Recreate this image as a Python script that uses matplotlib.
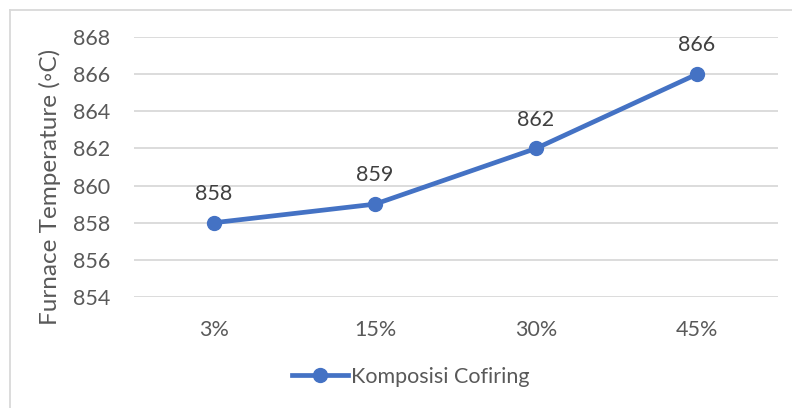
import matplotlib
matplotlib.use("Agg")
import matplotlib.pyplot as plt
from matplotlib.lines import Line2D

categories = ["3%", "15%", "30%", "45%"]
temperatures = [858, 859, 862, 866]
series_name = "Komposisi Cofiring"
y_ticks = [854, 856, 858, 860, 862, 864, 866, 868]

plt.rcParams["font.family"] = ["Lato", "DejaVu Sans"]

W, H = 792, 408
fig = plt.figure(figsize=(W / 100, H / 100), dpi=100)

# Plot area in pixel coordinates
left, right, top, bottom = 133.5, 777.5, 37, 297
ax = fig.add_axes([left / W, 1 - bottom / H, (right - left) / W, (bottom - top) / H])

blue = "#4472C4"
grid = "#D9D9D9"
tick_col = "#595959"
label_col = "#404040"
fs = 15.5

x = list(range(len(categories)))
ax.plot(x, temperatures, color=blue, lw=3.4, marker="o", markersize=10,
        solid_capstyle="round", zorder=3, clip_on=False)

for xi, v in zip(x, temperatures):
    ax.annotate(f"{v}", (xi, v), xytext=(0, 16.5), textcoords="offset points",
                ha="center", va="baseline", fontsize=fs, color=label_col)

ax.set_xlim(-0.5, len(categories) - 0.5)
ax.set_ylim(y_ticks[0], y_ticks[-1])
ax.set_yticks(y_ticks)
ax.set_xticks(x)
ax.set_xticklabels(categories)
ax.grid(axis="y", color=grid, lw=1.3)
ax.set_axisbelow(True)
for s in ax.spines.values():
    s.set_visible(False)
ax.tick_params(axis="both", length=0, labelsize=fs, labelcolor=tick_col)
ax.tick_params(axis="y", pad=17)
ax.tick_params(axis="x", pad=16.5)

fig.text(50 / W, 1 - 187 / H, "Furnace Temperature (\u25e6C)", rotation=90,
         ha="center", va="center", fontsize=17.5, color=tick_col)

# Legend
handle = Line2D([], [], color=blue, lw=3.4, marker="o", markersize=10)
fig.legend([handle], [series_name], loc="center", bbox_to_anchor=(411 / W, 1 - 377 / H),
           frameon=False, fontsize=fs, labelcolor=tick_col, handlelength=2.6,
           handletextpad=0.15)

# Chart border
fig.add_artist(Line2D([10 / W, 10 / W], [0, 1 - 10 / H], color=grid, lw=1.3,
                      transform=fig.transFigure))
fig.add_artist(Line2D([10 / W, 1], [1 - 10 / H, 1 - 10 / H], color=grid, lw=1.3,
                      transform=fig.transFigure))

fig.savefig("out.png", dpi=100)
